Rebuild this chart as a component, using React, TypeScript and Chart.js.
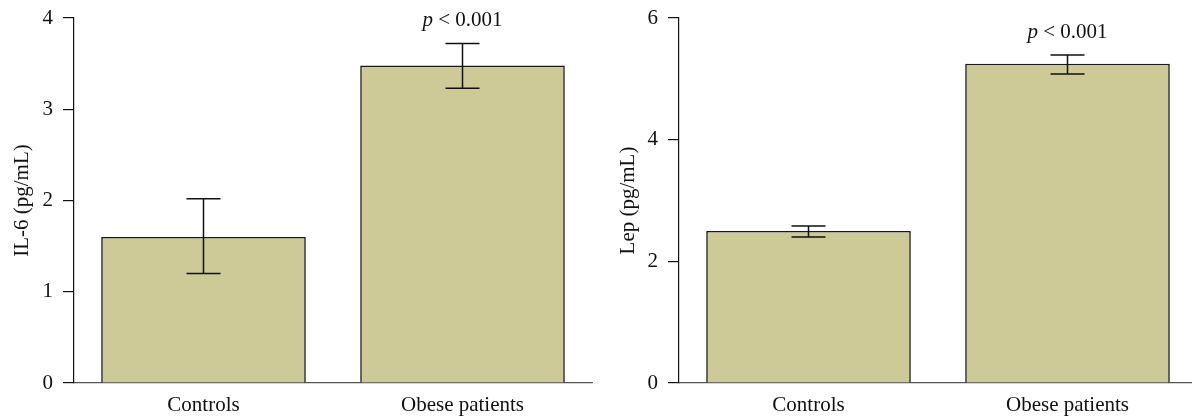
import React, { useEffect, useRef } from "react";
import { Chart, registerables } from "chart.js";

Chart.register(...registerables);

const categories = ["Controls", "Obese patients"];

const il6Means = [1.6, 3.48];
const il6Lower = [1.2, 3.23];
const il6Upper = [2.02, 3.72];
const il6Max = 4;
const il6Step = 1;

const lepMeans = [2.5, 5.25];
const lepLower = [2.4, 5.08];
const lepUpper = [2.58, 5.39];
const lepMax = 6;
const lepStep = 2;

const pLabels = ["", "p < 0.001"];

const FONT = "'Liberation Serif', 'DejaVu Serif', serif";
const FONT_SIZE = 21;
const BAR_COLOR = "#cdca97";

function makeErrorPlugin(lower: number[], upper: number[], notes: string[]) {
  return {
    id: "errs",
    afterDatasetsDraw(chart: any) {
      const ctx = chart.ctx;
      const meta = chart.getDatasetMeta(0);
      const y = chart.scales.y;
      ctx.save();
      ctx.strokeStyle = "#111";
      ctx.lineWidth = 1.5;
      meta.data.forEach((bar: any, i: number) => {
        const x = bar.x;
        const yl = y.getPixelForValue(lower[i]);
        const yu = y.getPixelForValue(upper[i]);
        const cap = 17;
        ctx.beginPath();
        ctx.moveTo(x, yl);
        ctx.lineTo(x, yu);
        ctx.moveTo(x - cap, yl);
        ctx.lineTo(x + cap, yl);
        ctx.moveTo(x - cap, yu);
        ctx.lineTo(x + cap, yu);
        ctx.stroke();
        const note = notes[i];
        if (note) {
          const first = note.slice(0, 1);
          const rest = note.slice(1);
          ctx.fillStyle = "#111";
          ctx.textBaseline = "middle";
          ctx.font = `italic ${FONT_SIZE}px ${FONT}`;
          const w1 = ctx.measureText(first).width;
          ctx.font = `${FONT_SIZE}px ${FONT}`;
          const w2 = ctx.measureText(rest).width;
          const start = x - (w1 + w2) / 2;
          const ty = yu - 23;
          ctx.font = `italic ${FONT_SIZE}px ${FONT}`;
          ctx.textAlign = "left";
          ctx.fillText(first, start, ty);
          ctx.font = `${FONT_SIZE}px ${FONT}`;
          ctx.fillText(rest, start + w1, ty);
        }
      });
      ctx.restore();
    },
  };
}

function makeConfig(
  means: number[],
  lower: number[],
  upper: number[],
  max: number,
  step: number,
  title: string,
  yWidth: number,
  rightPad: number,
  titlePad: number
): any {
  return {
    type: "bar",
    data: {
      labels: categories,
      datasets: [
        {
          data: means,
          backgroundColor: BAR_COLOR,
          borderColor: "#1a1a1a",
          borderWidth: 1.6,
          barPercentage: 0.79,
          categoryPercentage: 1,
        },
      ],
    },
    options: {
      responsive: false,
      animation: false,
      devicePixelRatio: 1,
      layout: { padding: { top: 18, right: rightPad, left: 0, bottom: 0 } },
      plugins: { legend: { display: false }, tooltip: { enabled: false } },
      scales: {
        x: {
          grid: { display: false },
          border: { display: true, color: "#555", width: 1.2 },
          ticks: {
            color: "#111",
            padding: 2,
            font: { family: FONT, size: FONT_SIZE },
          },
          afterFit: (s: any) => {
            s.height = 34;
            s.paddingLeft = 0;
            s.paddingRight = 0;
          },
        },
        y: {
          min: 0,
          max: max,
          ticks: {
            stepSize: step,
            color: "#111",
            padding: 10,
            font: { family: FONT, size: FONT_SIZE },
          },
          grid: {
            display: true,
            drawOnChartArea: false,
            drawTicks: true,
            tickLength: 11,
            color: "#111",
            lineWidth: 1.2,
          },
          border: { display: true, color: "#111", width: 1.2 },
          title: {
            display: true,
            text: title,
            color: "#111",
            padding: { top: titlePad, bottom: 0 },
            font: { family: FONT, size: FONT_SIZE },
          },
          afterFit: (s: any) => {
            s.width = yWidth;
            s.paddingTop = 0;
            s.paddingBottom = 0;
          },
        },
      },
    },
    plugins: [makeErrorPlugin(lower, upper, pLabels)],
  };
}

function Panel(props: { config: any; left: number; width: number }) {
  const ref = useRef<HTMLCanvasElement>(null);
  useEffect(() => {
    if (!ref.current) return;
    const chart = new Chart(ref.current, props.config);
    return () => chart.destroy();
  }, []);
  return (
    <canvas
      ref={ref}
      width={props.width}
      height={417}
      style={{
        position: "absolute",
        left: props.left,
        top: 0,
        width: props.width,
        height: 417,
      }}
    />
  );
}

export default function App() {
  const leftCfg = makeConfig(il6Means, il6Lower, il6Upper, il6Max, il6Step, "IL-6 (pg/mL)", 74, 8, 10);
  const rightCfg = makeConfig(lepMeans, lepLower, lepUpper, lepMax, lepStep, "Lep (pg/mL)", 79, 3, 16);
  return (
    <div
      style={{
        position: "fixed",
        left: 0,
        top: 0,
        width: 1192,
        height: 417,
        overflow: "hidden",
        background: "#fff",
      }}
    >
      <Panel config={leftCfg} left={0} width={600} />
      <Panel config={rightCfg} left={600} width={600} />
    </div>
  );
}
